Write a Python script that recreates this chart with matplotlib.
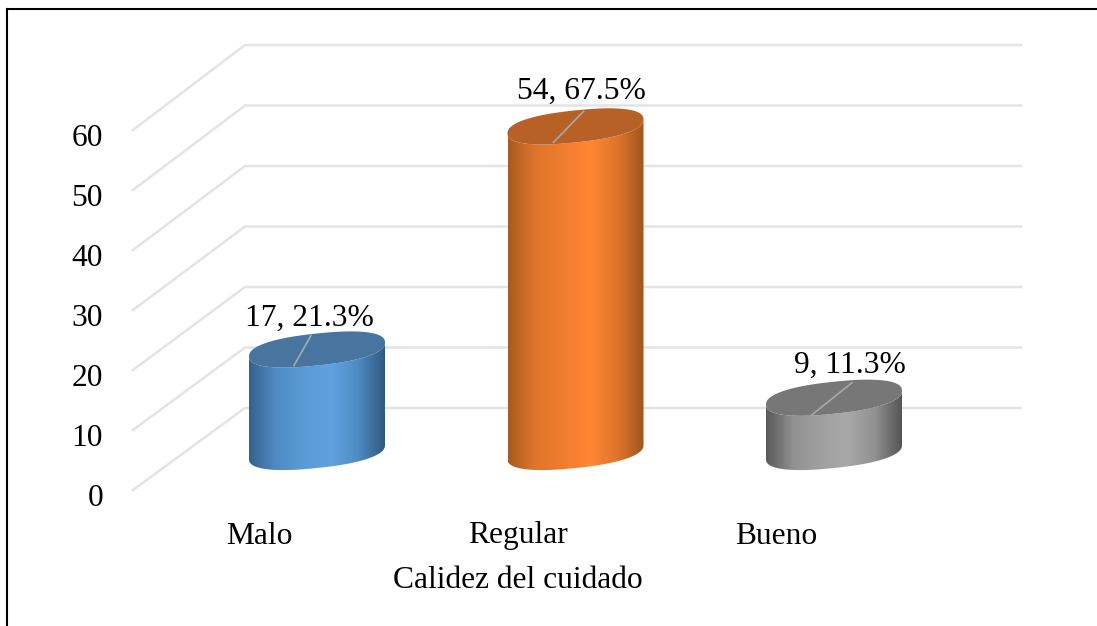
import matplotlib

matplotlib.use("Agg")
import matplotlib.pyplot as plt
import numpy as np
from matplotlib.colors import LinearSegmentedColormap
from matplotlib.lines import Line2D
from matplotlib.patches import Polygon

categories = ["Malo", "Regular", "Bueno"]
counts = [17, 54, 9]
labels = ["17, 21.3%", "54, 67.5%", "9, 11.3%"]
ticks = [0, 10, 20, 30, 40, 50, 60]
axis_title = "Calidez del cuidado"

WIDTH, HEIGHT = 1097, 626
# pixel scale of the picture: one category step, one value unit
STEP = 258.5
UNIT = 6.03
X0, Y0 = 317, 452
FONT = 22.7

BODY = [
    ["#34628d", "#4f8bc4", "#5b9bd5", "#5fa2df", "#4f8bc4", "#2f5a82"],
    ["#a85a20", "#e0752b", "#f07d2e", "#ff8633", "#e0752b", "#9c5420"],
    ["#5a5a5a", "#919191", "#a0a0a0", "#a8a8a8", "#919191", "#555555"],
]
TOPS = ["#47759f", "#b86126", "#777777"]
LEADERS = [(-23, 16, -6, -14), (-22, 16, 8, -15), (-22, 17, 18, -15)]
LABEL_POS = [(-8, -31), (6, -35), (16, -32)]


def px_x(px):
    return (px - X0) / STEP


def px_y(py):
    return (Y0 - py) / UNIT


def rounded(values, power=0.85):
    # slightly blunter than a true ellipse, as in the cylinder caps
    return np.sign(values) * np.abs(values) ** power


def draw_wall(ax):
    for tick in ticks:
        xs = [px_x(133), px_x(245), px_x(1021)]
        ys = [px_y(490 - 6.0 * tick), px_y(408 - 6.05 * tick), px_y(408 - 6.05 * tick)]
        ax.plot(xs, ys, color="#e4e4e4", linewidth=1.8, solid_joinstyle="miter", zorder=1)
        ax.text(px_x(103), px_y(499 - 6.0 * tick), str(tick), ha="right", va="center", fontsize=FONT)


def draw_cylinder(ax, index, value):
    a = 68 / STEP
    b = 16 / UNIT
    shear = 7 / UNIT
    t = np.linspace(np.pi, 2 * np.pi, 80)
    # lower half of an end cap, tilted up to the right
    xs = index + a * rounded(np.cos(t))
    lower = -b * rounded(np.abs(np.sin(t))) + shear * rounded(np.cos(t))

    outline = np.vstack([
        np.column_stack([xs, lower]),
        np.column_stack([xs[::-1], value + lower[::-1]]),
    ])
    body = Polygon(outline, closed=True, facecolor="none", edgecolor="none", zorder=3)
    ax.add_patch(body)
    cmap = LinearSegmentedColormap.from_list(f"body{index}", BODY[index])
    image = ax.imshow(
        np.linspace(0, 1, 256).reshape(1, -1),
        cmap=cmap,
        extent=(index - a, index + a, -10, value + 10),
        aspect="auto",
        zorder=3,
    )
    image.set_clip_path(body)

    t = np.linspace(0, 2 * np.pi, 160)
    cap = np.column_stack([
        index + a * rounded(np.cos(t)),
        value + b * rounded(np.sin(t)) + shear * rounded(np.cos(t)),
    ])
    ax.add_patch(Polygon(cap, closed=True, facecolor=TOPS[index], edgecolor="none", zorder=4))


def main():
    plt.rcParams["font.family"] = ["Liberation Serif", "DejaVu Serif"]
    fig = plt.figure(figsize=(WIDTH / 100, HEIGHT / 100), dpi=100)
    ax = fig.add_axes([0, 0, 1, 1])

    draw_wall(ax)
    for index, value in enumerate(counts):
        draw_cylinder(ax, index, value)

        sx, sy, ex, ey = LEADERS[index]
        ax.plot(
            [index + sx / STEP, index + ex / STEP],
            [value - sy / UNIT, value - ey / UNIT],
            color="#a9a9a9",
            linewidth=1.2,
            zorder=5,
        )
        lx, ly = LABEL_POS[index]
        ax.text(index + lx / STEP, value - ly / UNIT, labels[index], ha="center", va="center", fontsize=FONT, zorder=6)
        ax.text(index - 58 / STEP, px_y(536), categories[index], ha="center", va="center", fontsize=FONT)

    ax.text(px_x(518), px_y(581), axis_title, ha="center", va="center", fontsize=FONT)

    ax.set_xlim(px_x(0), px_x(WIDTH))
    ax.set_ylim(px_y(HEIGHT), px_y(0))
    ax.axis("off")

    # chart frame
    fig.add_artist(Line2D([6.5 / WIDTH, 6.5 / WIDTH], [0, 1 - 8.5 / HEIGHT], color="black", linewidth=1.5))
    fig.add_artist(Line2D([6.5 / WIDTH, 1], [1 - 8.5 / HEIGHT, 1 - 8.5 / HEIGHT], color="black", linewidth=1.5))

    fig.savefig("out.png", dpi=100)
    plt.close(fig)


if __name__ == "__main__":
    main()
